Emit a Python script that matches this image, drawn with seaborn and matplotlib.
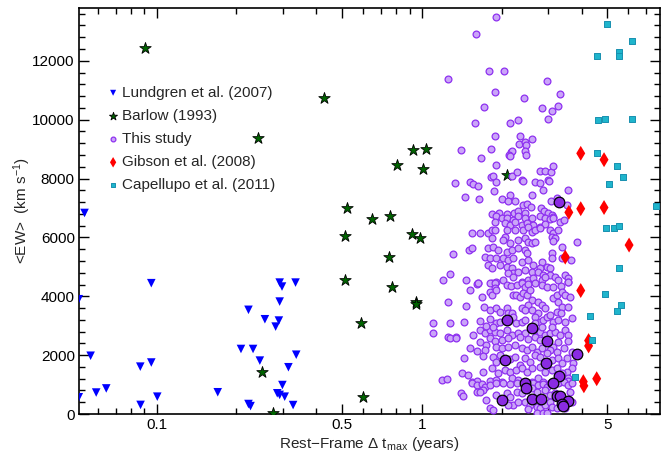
import numpy as np
import pandas as pd
import matplotlib
matplotlib.use("Agg")
import matplotlib.pyplot as plt
import seaborn as sns
from matplotlib.ticker import FixedLocator, NullFormatter, MultipleLocator

# ---------------- data ----------------
lundgren_x = [0.0535, 0.0509, 0.0509, 0.0564, 0.0592, 0.0646, 0.0868, 0.0870, 0.0955, 0.0955,
              0.1006, 0.170, 0.208, 0.222, 0.226, 0.222, 0.231, 0.245, 0.256, 0.281,
              0.289, 0.291, 0.291, 0.297, 0.334, 0.336, 0.314, 0.298, 0.285, 0.291,
              0.304, 0.327]
lundgren_y = [6830, 3900, 570, 1980, 730, 870, 1610, 310, 4445, 1750,
              590, 740, 2210, 340, 270, 3540, 2210, 1815, 3220, 2970,
              3175, 3820, 4465, 4330, 4465, 2015, 1590, 985, 705, 650,
              590, 305]

barlow_x = [0.0901, 0.427, 0.242, 0.249, 0.275, 0.523, 0.651, 0.757, 0.512, 0.914,
            0.983, 0.922, 1.032, 0.803, 1.006, 0.751, 0.512, 0.773, 0.949, 0.949,
            0.587, 0.600, 2.10]
barlow_y = [12440, 10725, 9380, 1420, 40, 7000, 6620, 6735, 6055, 6110,
            5965, 8980, 9015, 8470, 8310, 5350, 4560, 4330, 3820, 3740,
            3085, 590, 8105]

gibson_x = [3.97, 4.86, 3.58, 3.97, 4.86, 6.04, 3.47, 3.97, 4.25, 4.25, 4.06, 4.08, 4.56]
gibson_y = [8855, 8640, 6850, 6975, 7015, 5740, 5330, 4195, 2495, 2315, 1100, 960, 1200]

capellupo_x = [4.98, 6.18, 4.56, 5.53, 5.51, 4.63, 4.90, 6.22, 4.58, 5.46, 5.72, 5.09,
               7.64, 4.94, 5.29, 5.53, 5.51, 4.89, 5.65, 5.44, 4.29, 4.39, 3.77]
capellupo_y = [13250, 12675, 12165, 12300, 12150, 10000, 10035, 10035, 8880, 8425, 8035, 7800,
               7050, 6335, 6325, 6395, 4955, 4090, 3720, 3515, 3345, 2520, 1270]

# "This study" (band by band)
study_pts = [
    # upper sparse part
    (1.90, 13475), (1.60, 12900), (1.79, 11640), (2.04, 11640), (1.25, 11380), (2.97, 11320),
    (1.89, 10950), (2.42, 10735), (3.33, 10855), (1.71, 10430), (2.84, 10380), (3.10, 10310),
    (3.26, 10450), (1.58, 9885), (2.15, 9870), (2.30, 9995), (3.00, 10030),
    (1.89, 9450), (2.35, 9430), (2.61, 9350), (2.32, 9180), (2.44, 9225), (2.47, 9135),
    (1.40, 8975), (1.82, 9010), (2.17, 8895), (2.19, 8920), (2.13, 8805), (2.15, 8750),
    (2.45, 8920), (2.47, 8805), (1.67, 8695), (1.90, 8445), (2.19, 8070), (2.29, 8215),
    (2.79, 8250), (2.91, 8250), (3.07, 8215), (3.12, 8430), (1.82, 8045), (1.86, 8070),
    (1.90, 7875), (2.39, 7935), (2.41, 7900), (2.66, 7865), (2.78, 7845), (2.98, 7955),
    (3.01, 7900), (2.87, 7615), (3.56, 7595), (1.33, 7845), (1.52, 7875), (1.56, 7820),
    (1.63, 7730), (1.87, 7570), (1.45, 7365), (1.64, 7310), (2.01, 7310), (2.14, 7435),
    (2.12, 7220), (2.25, 7220), (2.41, 7105), (2.49, 7140), (2.61, 7425), (2.58, 7025),
    (3.07, 7220), (3.23, 7335), (3.52, 7105), (2.81, 6995), (2.88, 6905), (2.98, 6825),
    (1.83, 6790), (1.95, 6845), (2.09, 6790), (2.23, 6845), (2.31, 6880), (2.45, 6825),
    (3.09, 6765), (3.13, 6685),
    # 6700 - 4400
    (1.91, 6710), (2.00, 6655), (2.09, 6675), (2.21, 6595), (2.31, 6710), (2.45, 6655),
    (2.59, 6675), (2.79, 6710), (2.91, 6655), (3.04, 6630), (3.13, 6675), (3.32, 6540),
    (3.44, 6595), (1.89, 6515), (2.06, 6485), (2.15, 6425), (2.24, 6540), (2.38, 6425),
    (2.48, 6485), (2.63, 6425), (2.79, 6370), (2.91, 6450),
    (1.54, 6145), (1.66, 6145), (1.78, 6145), (1.83, 6255), (1.89, 6255), (2.09, 6255),
    (2.24, 6255), (2.41, 6255), (2.52, 6370), (2.59, 6200), (2.67, 6255), (2.79, 6315),
    (3.04, 6255), (3.13, 6145), (3.27, 6255),
    (1.50, 5575), (1.54, 5635), (1.31, 5430), (1.83, 5975), (2.06, 6030), (2.03, 5915),
    (2.15, 5805), (2.31, 5915), (2.45, 5975), (2.52, 5860), (2.59, 5805), (2.67, 5860),
    (3.09, 6030), (3.18, 5975), (3.13, 5880), (3.83, 5860), (3.37, 5690),
    (1.78, 5635), (1.86, 5690), (1.94, 5575), (2.09, 5520), (2.18, 5575), (2.31, 5635),
    (2.45, 5575), (2.48, 5465), (1.73, 5350), (1.80, 5295), (1.91, 5295), (2.03, 5315),
    (2.12, 5235), (2.21, 5295), (2.38, 5180), (2.52, 5235), (2.63, 5065), (2.83, 5180),
    (3.09, 5465), (3.09, 5295), (2.96, 5010), (2.79, 4955), (3.37, 5295), (3.64, 5235),
    (3.46, 5350),
    (1.78, 5065), (1.83, 4955), (1.97, 5065), (2.09, 5010), (2.18, 4955), (2.21, 4785),
    (2.12, 4785), (2.31, 4840), (2.45, 4895), (2.59, 4840), (2.75, 4840), (2.87, 4725),
    (3.04, 4955), (3.04, 4725), (3.18, 4670), (3.27, 4555), (3.46, 4725), (3.56, 4615),
    (3.56, 4500), (1.20, 4555), (1.275, 4750), (1.47, 4555), (1.63, 4445), (1.83, 4445),
    (1.91, 4500), (2.03, 4555), (2.21, 4670), (2.38, 4500), (2.52, 4555), (2.63, 4615),
    (2.83, 4555), (2.91, 4670),
    # 4400 - 2600
    (1.52, 4215), (1.61, 4420), (1.63, 4465), (1.80, 4445), (1.89, 4465), (1.89, 4275),
    (1.80, 4160), (1.83, 4045), (1.91, 4215), (2.09, 4385), (2.17, 4350), (2.29, 4385),
    (2.38, 4465), (2.45, 4305), (2.52, 4420), (2.67, 4465), (2.83, 4385), (2.96, 4330),
    (3.13, 4330), (3.35, 4350), (3.54, 4500),
    (1.25, 3820), (1.47, 3685), (1.68, 3965), (1.72, 3625), (1.80, 3535), (1.91, 3595),
    (1.97, 3480), (2.09, 3595), (2.12, 3425), (2.21, 4045), (2.27, 4045), (2.35, 3990),
    (2.41, 4105), (2.48, 4045), (2.55, 4215), (2.59, 3875), (2.52, 3705), (2.38, 3595),
    (2.45, 3535), (2.59, 3535), (2.75, 3820), (2.83, 3705), (2.91, 3595), (2.75, 3425),
    (2.67, 3310), (3.13, 3935), (3.22, 4045), (3.37, 4160), (3.46, 4045), (3.27, 3820),
    (3.37, 3650), (3.22, 3480), (3.56, 3650), (3.62, 3990),
    (1.10, 3105), (1.275, 3105), (1.44, 3140), (1.66, 3175), (1.80, 3220), (1.91, 3085),
    (1.97, 3140), (2.06, 3195), (2.18, 3425), (2.21, 3310), (2.27, 3105), (2.38, 3140),
    (2.45, 3195), (2.79, 3140), (2.87, 3195), (2.96, 3310), (3.04, 3365), (3.13, 3140),
    (3.27, 3195), (3.46, 3140), (3.67, 3255), (3.35, 3425),
    (1.10, 2765), (1.25, 2605), (1.35, 2605), (1.56, 2685), (1.66, 2855), (1.73, 2745),
    (1.80, 2855), (1.89, 2800), (1.97, 2745), (2.09, 2855), (2.18, 2685), (2.31, 2745),
    (2.45, 2745), (2.67, 2855), (2.79, 2800), (2.91, 2685), (3.04, 2745), (3.18, 2800),
    (3.32, 2685), (3.46, 2855), (3.56, 2685), (3.09, 2970), (2.83, 2970), (2.67, 3085),
    (1.75, 2995), (1.86, 2970),
    # 2600 - 1050
    (1.275, 2595), (1.35, 2595), (1.66, 2460), (1.80, 2595), (1.89, 2480), (2.00, 2515),
    (2.12, 2575), (2.35, 2630), (2.52, 2550), (2.67, 2630), (2.79, 2515), (3.13, 2290),
    (3.27, 2460), (3.56, 2480),
    (1.52, 2255), (1.62, 2140), (1.75, 2345), (1.73, 2175), (1.91, 2290), (2.00, 2235),
    (2.12, 2290), (2.24, 2345), (2.38, 2235), (2.48, 2175), (2.59, 2290), (2.71, 2120),
    (2.83, 2235), (3.04, 2175), (3.22, 2120), (3.42, 2235), (3.67, 2120),
    (1.44, 1915), (1.70, 1985), (1.86, 1950), (1.97, 2005), (1.91, 1780), (2.15, 1870),
    (2.24, 1950), (2.35, 1665), (2.45, 1895), (2.55, 1780), (2.67, 2005), (2.79, 1950),
    (2.96, 2065), (3.09, 1835), (3.27, 1895), (3.37, 1725), (3.51, 1895), (3.72, 1725),
    (3.67, 1555),
    (1.42, 1385), (1.49, 1325), (1.70, 1440), (1.83, 1555), (1.94, 1385), (2.06, 1495),
    (2.15, 1440), (2.27, 1495), (2.38, 1555), (2.48, 1440), (2.59, 1555), (2.79, 1610),
    (2.91, 1440), (3.09, 1495), (3.22, 1555), (3.51, 1440), (3.56, 1215), (3.37, 1385),
    (1.19, 1155), (1.24, 1180), (1.54, 1100), (1.62, 1125), (1.80, 1125), (1.91, 1155),
    (2.00, 1100), (2.18, 1215), (2.31, 1155), (2.59, 1100), (2.75, 1215), (2.87, 1100),
    (3.32, 1100), (3.56, 1125),
    # below 1050
    (1.54, 1045), (1.61, 985), (1.68, 1020), (1.73, 930), (1.70, 815), (1.80, 985),
    (1.91, 1045), (2.03, 1060), (2.15, 1020), (2.29, 1065), (2.52, 1045), (2.63, 1065),
    (2.75, 985), (2.87, 1020), (2.96, 930), (3.04, 1065), (3.27, 1045), (3.42, 1080),
    (3.56, 985), (3.67, 1065),
    (1.40, 705), (1.43, 610), (1.61, 760), (1.66, 760), (1.75, 475), (1.91, 645),
    (2.09, 705), (2.15, 590), (2.29, 760), (2.38, 705), (2.48, 815), (2.59, 875),
    (2.71, 760), (2.91, 815), (3.04, 645), (3.18, 705), (3.62, 760), (2.21, 305),
    (2.12, 305), (2.31, 420), (2.45, 420), (2.55, 305), (2.71, 250), (2.79, 195),
    (2.91, 305), (3.04, 420), (3.09, 250), (1.80, 195), (1.86, 135), (2.52, 160),
    (2.71, 25), (2.87, 25), (2.96, 45), (3.22, 195), (3.46, 195), (3.67, 420),
]
study_x = [p[0] for p in study_pts]
study_y = [p[1] for p in study_pts]

# highlighted objects of this study
hl_x = [3.29, 2.09, 2.59, 2.97, 3.84, 2.06, 2.94, 3.29, 2.44, 2.46, 3.11, 2.00, 2.60,
        2.80, 3.24, 3.33, 3.55, 3.37, 3.39]
hl_y = [7190, 3195, 2915, 2480, 2040, 1835, 1745, 1300, 1045, 895, 1045, 475, 510,
        510, 610, 610, 440, 330, 270]

# ---------------- plot ----------------
sns.set_theme(style="ticks")
plt.rcParams["font.family"] = ["Liberation Sans", "DejaVu Sans"]
plt.rcParams["mathtext.fontset"] = "custom"
plt.rcParams["mathtext.rm"] = "Liberation Sans"
plt.rcParams["mathtext.it"] = "Liberation Sans"

fig = plt.figure(figsize=(6.64, 4.57), dpi=100)
ax = fig.add_axes([0.119, 0.094, 0.875, 0.889])

df_l = pd.DataFrame({"x": lundgren_x, "y": lundgren_y})
df_b = pd.DataFrame({"x": barlow_x, "y": barlow_y})
df_s = pd.DataFrame({"x": study_x, "y": study_y})
df_h = pd.DataFrame({"x": hl_x, "y": hl_y})
df_g = pd.DataFrame({"x": gibson_x, "y": gibson_y})
df_c = pd.DataFrame({"x": capellupo_x, "y": capellupo_y})

sns.scatterplot(data=df_l, x="x", y="y", ax=ax, marker="v", s=38, color="#0000ff",
                edgecolor="none", label="Lundgren et al. (2007)", zorder=3)
sns.scatterplot(data=df_b, x="x", y="y", ax=ax, marker="*", s=75, color="#006400",
                edgecolor="black", linewidth=0.6, label="Barlow (1993)", zorder=3)
sns.scatterplot(data=df_s, x="x", y="y", ax=ax, marker="o", s=24, color="#caa5f8",
                edgecolor="#8e30f0", linewidth=0.9, label="This study", zorder=4)
sns.scatterplot(data=df_h, x="x", y="y", ax=ax, marker="o", s=58, color="#8a2be2",
                edgecolor="black", linewidth=0.9, zorder=5)
sns.scatterplot(data=df_g, x="x", y="y", ax=ax, marker="d", s=58, color="#ff0000",
                edgecolor="none", label="Gibson et al. (2008)", zorder=6)
sns.scatterplot(data=df_c, x="x", y="y", ax=ax, marker="s", s=24, color="#1fb5cc",
                edgecolor="#1890b0", linewidth=0.7, label="Capellupo et al. (2011)", zorder=6)

ax.set_xscale("log")
ax.set_xlim(0.051, 7.9)
ax.set_ylim(0, 13800)

ax.xaxis.set_major_locator(FixedLocator([0.1, 0.5, 1, 5]))
ax.set_xticklabels(["0.1", "0.5", "1", "5"])
minors = [0.06, 0.07, 0.08, 0.09, 0.2, 0.3, 0.4, 0.6, 0.7, 0.8, 0.9,
          2, 3, 4, 6, 7]
ax.xaxis.set_minor_locator(FixedLocator(minors))
ax.xaxis.set_minor_formatter(NullFormatter())
ax.yaxis.set_major_locator(MultipleLocator(2000))
ax.yaxis.set_minor_locator(MultipleLocator(400))

ax.tick_params(which="both", direction="in", top=True, right=True, colors="black",
               labelsize=11, width=1.0)
ax.tick_params(which="major", length=7)
ax.tick_params(which="minor", length=4)
ax.tick_params(axis="x", which="major", pad=3)
ax.tick_params(axis="y", which="major", pad=3)
for sp in ax.spines.values():
    sp.set_linewidth(1.2)
    sp.set_color("black")
    sp.set_visible(True)

ax.set_xlabel("Rest\u2212Frame \u0394 t$_{\\mathrm{max}}$ (years)", fontsize=11, labelpad=2)
ax.set_ylabel("<EW>  (km s$^{\\mathrm{-1}}$)", fontsize=11)
ax.yaxis.set_label_coords(-0.080, 0.5)

leg = ax.legend(loc="upper left", bbox_to_anchor=(0.035, 0.823), frameon=False,
                fontsize=11, markerscale=0.7, handletextpad=0.1, labelspacing=0.6,
                borderaxespad=0, handlelength=1.0)

fig.savefig("out.png", dpi=100)
